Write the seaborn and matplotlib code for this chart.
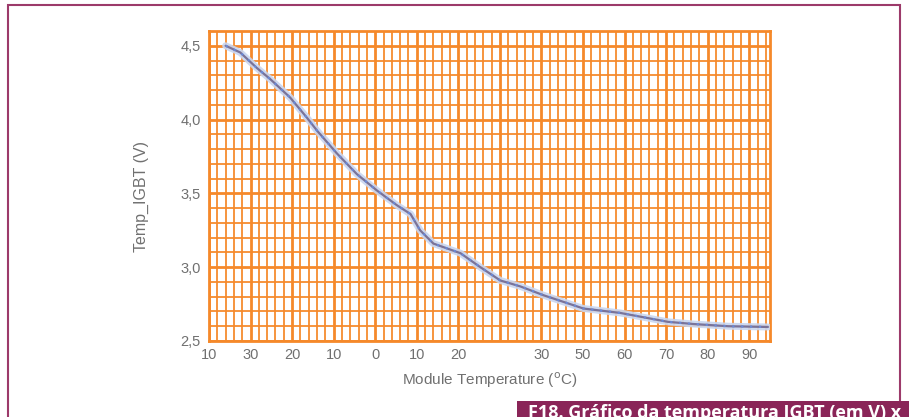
import matplotlib
matplotlib.use("Agg")
import matplotlib.pyplot as plt
from matplotlib.patches import Rectangle
from matplotlib.ticker import MultipleLocator, FixedLocator, FixedFormatter
import numpy as np
import pandas as pd
import seaborn as sns

# Temperature axis: evenly spaced graph-paper divisions with printed labels
tick_labels = ["10", "30", "20", "10", "0", "10", "20", "", "30", "50", "60", "70", "80", "90"]

# Curve samples: position along the temperature scale (division index) and voltage
curve_pos = [0.40, 0.75, 1.15, 1.47, 1.95, 2.35, 2.60, 3.08, 3.56, 4.04, 4.52,
             4.85, 5.08, 5.40, 6.05, 6.53, 7.01, 7.49, 8.05, 9.01, 9.90, 11.04,
             11.66, 12.50, 13.45]
curve_volt = [4.50, 4.455, 4.35, 4.275, 4.15, 4.015, 3.925, 3.77, 3.63, 3.52, 3.42,
              3.36, 3.25, 3.16, 3.095, 3.00, 2.91, 2.87, 2.81, 2.72, 2.69, 2.63,
              2.615, 2.60, 2.595]

yticks = [2.5, 3.0, 3.5, 4.0, 4.5]
ytick_labels = ["2,5", "3,0", "3,5", "4,0", "4,5"]

df = pd.DataFrame({"pos": curve_pos, "volt": curve_volt})

sns.set_style("white")
plt.rcParams["font.family"] = ["Liberation Sans", "DejaVu Sans"]

ORANGE = "#f5892a"
GRAY = "#707070"
MAROON = "#8a2558"

fig = plt.figure(figsize=(9.09, 4.17), dpi=100)
fig.patch.set_facecolor("white")
ax = fig.add_axes([209 / 909, 1 - 341 / 417, (770 - 209) / 909, (341 - 31) / 417])

ax.set_xlim(0, 13.5)
ax.set_ylim(2.5, 4.6)

# Graph-paper grid
ax.xaxis.set_major_locator(FixedLocator(range(len(tick_labels))))
ax.xaxis.set_major_formatter(FixedFormatter(tick_labels))
ax.xaxis.set_minor_locator(MultipleLocator(0.2))
ax.yaxis.set_major_locator(FixedLocator(yticks))
ax.yaxis.set_major_formatter(FixedFormatter(ytick_labels))
ax.yaxis.set_minor_locator(MultipleLocator(0.1))
ax.grid(which="major", color=ORANGE, linewidth=2.0)
ax.grid(which="minor", color=ORANGE, linewidth=1.4, alpha=0.9)
ax.set_axisbelow(True)
for s in ax.spines.values():
    s.set_color(ORANGE)
    s.set_linewidth(2.0)

ax.tick_params(axis="both", which="major", length=4, width=1.5, color=ORANGE,
               labelcolor=GRAY, labelsize=10.5, direction="out")
ax.tick_params(axis="both", which="minor", length=0)
ax.tick_params(axis="x", pad=1)
ax.tick_params(axis="y", pad=2)

# Curve: soft blue halo with a slate line on top
sns.lineplot(data=df, x="pos", y="volt", ax=ax, color="#c9d6f0", linewidth=5,
             alpha=0.9, estimator=None, sort=False, zorder=3)
sns.lineplot(data=df, x="pos", y="volt", ax=ax, color="#7a7398", linewidth=1.6,
             estimator=None, sort=False, zorder=4)
sns.lineplot(data=df, x="pos", y="volt", ax=ax, color="#6a8ad8", linewidth=1.6,
             linestyle=(0, (1, 3)), estimator=None, sort=False, zorder=5)

ax.set_xlabel("Module Temperature ($^{\\mathrm{o}}$C)", color=GRAY, fontsize=11, labelpad=6)
ax.set_ylabel("Temp_IGBT (V)", color=GRAY, fontsize=11.5)
ax.yaxis.set_label_coords((149 - 209) / 561, (341 - 197) / 310)

# Page frame and caption tab
fig.add_artist(Rectangle((8 / 909, -0.05), (900 - 8) / 909, 1 - 5 / 417 + 0.05,
                         transform=fig.transFigure, fill=False,
                         edgecolor="#9c3a6a", linewidth=1.5))
fig.add_artist(Rectangle((517 / 909, -0.05), 1.0, 0.05 + 16 / 417,
                         transform=fig.transFigure, facecolor=MAROON,
                         edgecolor="none"))
fig.text(528 / 909, 1 - 418 / 417, "F18. Gráfico da temperatura IGBT (em V) x",
         color="white", fontsize=13, fontweight="bold", va="baseline", ha="left",
         family=["Open Sans", "DejaVu Sans"])

fig.savefig("out.png", dpi=100)
